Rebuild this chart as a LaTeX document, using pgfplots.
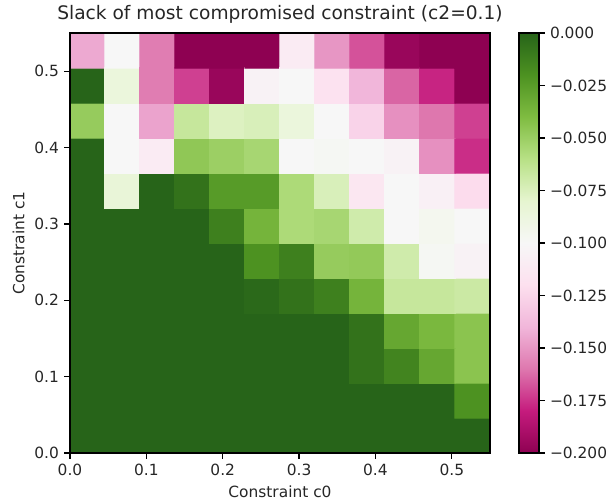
\documentclass[border=0pt]{standalone}
\usepackage{pgfplots}
\pgfplotsset{compat=1.18}
\usepackage{fontspec}
\setmainfont{DejaVu Sans}

% PiYG diverging colormap
\pgfplotsset{
  colormap={piyg}{
    rgb255=(142,1,82) rgb255=(197,27,125) rgb255=(222,119,174)
    rgb255=(241,182,218) rgb255=(253,224,239) rgb255=(247,247,247)
    rgb255=(230,245,208) rgb255=(184,225,134) rgb255=(127,188,65)
    rgb255=(77,146,33) rgb255=(39,100,25)}
}

\begin{document}
\begin{tikzpicture}
\begin{axis}[
  scale only axis,
  width=302.4pt, height=302.4pt,
  xmin=0, xmax=0.55, ymin=0, ymax=0.55,
  axis on top,
  line width=0.9pt,
  tick align=outside,
  xtick pos=bottom, ytick pos=left,
  major tick length=4.2pt,
  tick style={black, line width=0.9pt},
  xtick={0,0.1,0.2,0.3,0.4,0.5},
  ytick={0,0.1,0.2,0.3,0.4,0.5},
  xticklabels={0.0,0.1,0.2,0.3,0.4,0.5},
  yticklabels={0.0,0.1,0.2,0.3,0.4,0.5},
  ticklabel style={font=\fontsize{11.1}{13}\selectfont, text=black!85},
  xlabel={Constraint c0},
  ylabel={Constraint c1},
  label style={font=\fontsize{11.1}{13}\selectfont, text=black!85},
  title={Slack of most compromised constraint (c2=0.1)},
  title style={font=\fontsize{13.4}{16}\selectfont, text=black!85, yshift=-3pt},
  colormap name=piyg,
  point meta min=-0.2, point meta max=0,
  colorbar,
  colorbar style={
    at={(parent axis.north east)}, anchor=north west, xshift=12.3pt,
    width=14.4pt,
    line width=0.9pt,
    ytick={-0.2,-0.175,-0.15,-0.125,-0.1,-0.075,-0.05,-0.025,0},
    yticklabels={−0.200,−0.175,−0.150,−0.125,−0.100,−0.075,−0.050,−0.025,0.000},
    yticklabel style={font=\fontsize{11.1}{13}\selectfont, text=black!85},
    ytick pos=right,
    tick align=outside,
    major tick length=4.2pt,
  },
]
% slack values, one grid row per line, from c1 = 0 (bottom) upward
\addplot[matrix plot*, mesh/cols=12, point meta=explicit]
  table[row sep=\\, meta=v,
        x expr={(mod(\coordindex,12)+0.5)*0.55/12},
        y expr={(floor((\coordindex+0.5)/12)+0.5)*0.55/12}] {
v\\
0\\0\\0\\0\\0\\0\\0\\0\\0\\0\\0\\0\\
0\\0\\0\\0\\0\\0\\0\\0\\0\\0\\0\\-0.020\\
0\\0\\0\\0\\0\\0\\0\\0\\-0.006\\-0.014\\-0.030\\-0.044\\
0\\0\\0\\0\\0\\0\\0\\0\\-0.006\\-0.030\\-0.038\\-0.044\\
0\\0\\0\\0\\0\\-0.002\\-0.006\\-0.012\\-0.036\\-0.066\\-0.066\\-0.068\\
0\\0\\0\\0\\0\\-0.020\\-0.012\\-0.048\\-0.047\\-0.070\\-0.098\\-0.104\\
0\\0\\0\\0\\-0.012\\-0.036\\-0.056\\-0.054\\-0.070\\-0.100\\-0.096\\-0.100\\
0\\-0.084\\0\\-0.006\\-0.024\\-0.024\\-0.056\\-0.074\\-0.114\\-0.100\\-0.106\\-0.122\\
0\\-0.100\\-0.110\\-0.046\\-0.050\\-0.054\\-0.100\\-0.098\\-0.100\\-0.104\\-0.152\\-0.176\\
-0.048\\-0.100\\-0.146\\-0.066\\-0.076\\-0.074\\-0.086\\-0.100\\-0.126\\-0.152\\-0.160\\-0.172\\
0\\-0.086\\-0.158\\-0.172\\-0.196\\-0.104\\-0.100\\-0.118\\-0.140\\-0.164\\-0.178\\-0.200\\
-0.144\\-0.100\\-0.158\\-0.200\\-0.200\\-0.200\\-0.110\\-0.150\\-0.168\\-0.196\\-0.200\\-0.200\\
};
\end{axis}
\pgfresetboundingbox
\path[use as bounding box] (-50.4pt,-36pt) rectangle (385.92pt,326.16pt);
\end{tikzpicture}
\end{document}
